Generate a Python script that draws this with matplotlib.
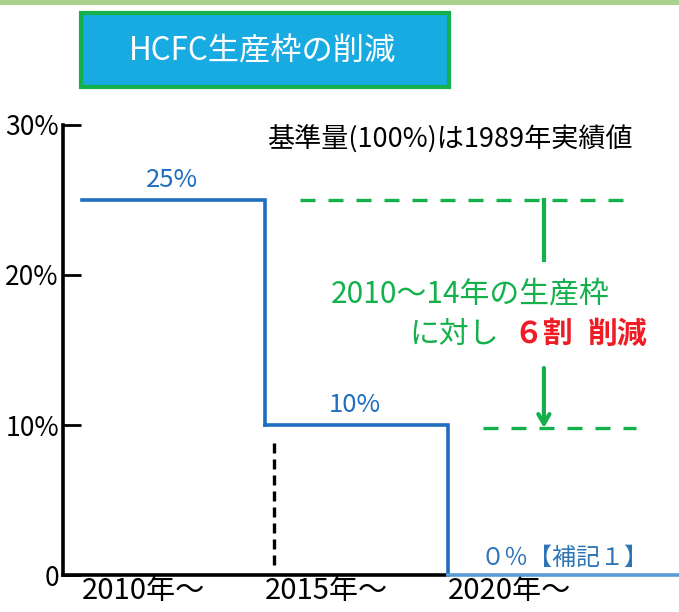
"""
HCFC生産枠の削減 - step chart of production quota
"""

import matplotlib
matplotlib.use('Agg')
import matplotlib.pyplot as plt
from matplotlib.patches import Rectangle

plt.rcParams['font.family'] = ['Noto Sans CJK JP', 'DejaVu Sans']

# data
step_years = [2010, 2015, 2020]
quota_pct = [25, 10, 0]
quota_labels = ['25%', '10%', '０％【補記１】']
xtick_labels = ['2010年～', '2015年～', '2020年～']
ytick_vals = [0, 10, 20, 30]
ytick_labels = ['0', '10%', '20%', '30%']
base_pct = 25      # 2010-14 quota
target_pct = 10    # after 60% cut

BLUE = '#1F6EC0'
LIGHT_BLUE = '#5B9BD5'
GREEN = '#13B04B'
RED = '#EE1C25'

W, H = 679, 612
fig = plt.figure(figsize=(W / 100, H / 100), dpi=100)

# axes placed so that 0% sits at y=575 px and 30% at y=125 px
ax = fig.add_axes([63 / W, (H - 575) / H, (W - 63) / W, 450 / H])
x_left = 2010 - 19 / 36.6
x_right = 2010 + (W - 82) / 36.6
ax.set_xlim(x_left, x_right)
ax.set_ylim(0, 30)

# step line
for i in range(len(step_years) - 1):
    x0, x1 = step_years[i], step_years[i + 1]
    ax.plot([x0, x1, x1], [quota_pct[i], quota_pct[i], quota_pct[i + 1]],
            color=BLUE, lw=2.6, solid_joinstyle='miter', clip_on=False, zorder=4)
ax.plot([step_years[-1], x_right], [quota_pct[-1], quota_pct[-1]],
        color=LIGHT_BLUE, lw=2.6, clip_on=False, zorder=4)

# value labels
ax.text(2012.45, quota_pct[0] + 0.45, quota_labels[0], color=BLUE, fontsize=18.5,
        ha='center', va='bottom')
ax.text(2017.46, quota_pct[1] + 0.45, quota_labels[1], color=BLUE, fontsize=18.5,
        ha='center', va='bottom')
ax.text(2020.9, quota_pct[2] + 0.3, quota_labels[2], color='#2E75B6', fontsize=17.3,
        ha='left', va='bottom')

# spines / ticks
for s in ['top', 'right']:
    ax.spines[s].set_visible(False)
ax.spines['left'].set_linewidth(2.6)
ax.spines['bottom'].set_linewidth(2.6)
ax.spines['bottom'].set_bounds(x_left, step_years[-1])
ax.spines['left'].set_capstyle('projecting')

ax.set_yticks(ytick_vals)
ax.set_yticklabels(ytick_labels)
ax.tick_params(axis='y', direction='in', length=13, width=2, pad=3, labelsize=19)
ax.set_xticks(step_years)
ax.set_xticklabels(xtick_labels)
ax.tick_params(axis='x', length=0, pad=1, labelsize=21)
for lab in ax.get_xticklabels():
    lab.set_ha('left')

# black dashed marker in the 2015 period
ax.plot([2015.25, 2015.25], [0.7, 8.9], color='black', lw=2.4,
        linestyle=(0, (3.0, 1.8)))

# green reference lines
ax.plot([2015.96, 2024.89], [base_pct, base_pct], color=GREEN, lw=2.4,
        linestyle=(0, (4.5, 3.9)))
ax.plot([2020.96, 2025.14], [target_pct - 0.2, target_pct - 0.2], color=GREEN, lw=2.4,
        linestyle=(0, (4.5, 3.9)))
x_arrow = 2022.62
ax.plot([x_arrow, x_arrow], [base_pct, 21.0], color=GREEN, lw=3)
ax.annotate('', xy=(x_arrow, target_pct - 0.2), xytext=(x_arrow, 13.8),
            arrowprops=dict(arrowstyle='->,head_length=0.7,head_width=0.4',
                            color=GREEN, lw=3, shrinkA=0, shrinkB=0))

ax.text(2020.6, 18.7, '2010～14年の生産枠', color=GREEN, fontsize=21.5,
        ha='center', va='center')
ax.text(2020.16, 16.05, 'に対し', color=GREEN, fontsize=21.5, ha='center', va='center')
ax.text(2022.6, 16.05, '６割', color=RED, fontsize=21.5, ha='center', va='center',
        fontweight='bold')
ax.text(2024.65, 16.05, '削減', color=RED, fontsize=21.5, ha='center', va='center',
        fontweight='bold')

ax.text(2020.05, 29.0, '基準量(100%)は1989年実績値', color='black', fontsize=19.5,
        ha='center', va='center')

# header band and title box
fig.patches.append(Rectangle((0, 1 - 5 / H), 1, 5 / H, transform=fig.transFigure,
                             facecolor='#A9D18E', edgecolor='none'))
fig.patches.append(Rectangle((81 / W, 1 - 87 / H), 368 / W, 74 / H,
                             transform=fig.transFigure, facecolor='#17ABE2',
                             edgecolor=GREEN, linewidth=3))
fig.text(263 / W, 1 - 51 / H, 'HCFC生産枠の削減', color='white', fontsize=22.5,
         ha='center', va='center')

fig.savefig('out.png', dpi=100)
